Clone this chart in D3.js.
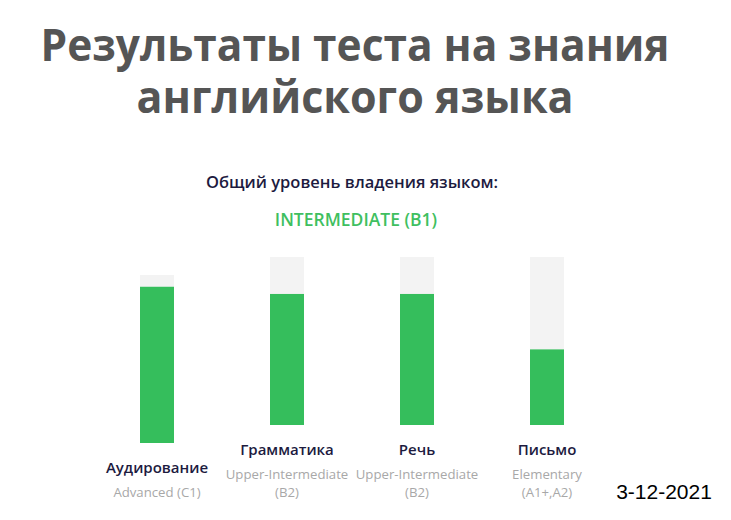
<!DOCTYPE html>
<html>
<head>
<meta charset="utf-8">
<script src="https://cdn.jsdelivr.net/npm/d3@7.9.0/dist/d3.min.js"></script>
<style>
  html, body { margin: 0; padding: 0; background: #fff; }
  svg { display: block; }
</style>
</head>
<body>
<div id="chart"></div>
<script>
// data
const titleLines = ["Результаты теста на знания", "английского языка"];
const overallLabel = "Общий уровень владения языком:";
const overallLevel = "INTERMEDIATE (B1)";
const skills = ["Аудирование", "Грамматика", "Речь", "Письмо"];
const scores = [93, 78, 78, 45]; // percent of the track
const levels = [
  ["Advanced (C1)"],
  ["Upper-Intermediate", "(B2)"],
  ["Upper-Intermediate", "(B2)"],
  ["Elementary", "(A1+,A2)"]
];
const dateLabel = "3-12-2021";

const width = 731, height = 520;
const green = "#35be5c";
const track = "#f3f3f3";
const navy = "#1d1b3f";
const grey = "#a8a8a8";

const svg = d3.select("#chart")
  .append("svg")
  .attr("width", width)
  .attr("height", height);

// title
svg.append("g")
  .selectAll("text")
  .data(titleLines)
  .join("text")
  .attr("x", 355)
  .attr("y", (d, i) => 61 + i * 52)
  .attr("text-anchor", "middle")
  .attr("font-family", "'Open Sans', sans-serif")
  .attr("font-weight", 700)
  .attr("font-size", 45)
  .attr("fill", "#555555")
  .attr("textLength", (d, i) => (i === 0 ? 629 : 437))
  .attr("lengthAdjust", "spacingAndGlyphs")
  .text(d => d);

svg.append("text")
  .attr("x", 352)
  .attr("y", 188)
  .attr("text-anchor", "middle")
  .attr("font-family", "'Open Sans', sans-serif")
  .attr("font-weight", 600)
  .attr("font-size", 16.5)
  .attr("fill", navy)
  .text(overallLabel);

svg.append("text")
  .attr("x", 356)
  .attr("y", 226)
  .attr("text-anchor", "middle")
  .attr("font-family", "'Open Sans', sans-serif")
  .attr("font-weight", 600)
  .attr("font-size", 17.5)
  .attr("fill", "#3fbf60")
  .text(overallLevel);

// bars
const x = d3.scalePoint()
  .domain(skills)
  .range([157, 547]);

const barW = 34;
const trackH = 168;
const y = d3.scaleLinear().domain([0, 100]).range([0, trackH]);

const lastBaseline = 497;
const subLine = 18;
// columns are bottom aligned, so fewer level lines push the column down
const barBottom = i => lastBaseline - (levels[i].length - 1) * subLine - 24 - 30;

const cols = svg.append("g")
  .selectAll("g")
  .data(skills)
  .join("g")
  .attr("transform", d => `translate(${x(d)},0)`);

cols.append("rect")
  .attr("x", -barW / 2)
  .attr("width", barW)
  .attr("y", (d, i) => barBottom(i) - y(100))
  .attr("height", y(100))
  .attr("fill", track);

cols.append("rect")
  .attr("x", -barW / 2)
  .attr("width", barW)
  .attr("y", (d, i) => barBottom(i) - y(scores[i]))
  .attr("height", (d, i) => y(scores[i]))
  .attr("fill", green);

cols.append("text")
  .attr("y", (d, i) => barBottom(i) + 30)
  .attr("text-anchor", "middle")
  .attr("font-family", "'Open Sans', sans-serif")
  .attr("font-weight", 600)
  .attr("font-size", 15)
  .attr("fill", navy)
  .text(d => d);

cols.each(function (d, i) {
  d3.select(this)
    .selectAll("text.level")
    .data(levels[i])
    .join("text")
    .attr("class", "level")
    .attr("y", (t, j) => barBottom(i) + 54 + j * subLine)
    .attr("text-anchor", "middle")
    .attr("font-family", "'Open Sans', sans-serif")
    .attr("font-size", 13.2)
    .attr("fill", grey)
    .text(t => t);
});

svg.append("text")
  .attr("x", 664)
  .attr("y", 499)
  .attr("text-anchor", "middle")
  .attr("font-family", "'Liberation Sans', sans-serif")
  .attr("font-size", 21)
  .attr("fill", "#000")
  .text(dateLabel);
</script>
</body>
</html>
